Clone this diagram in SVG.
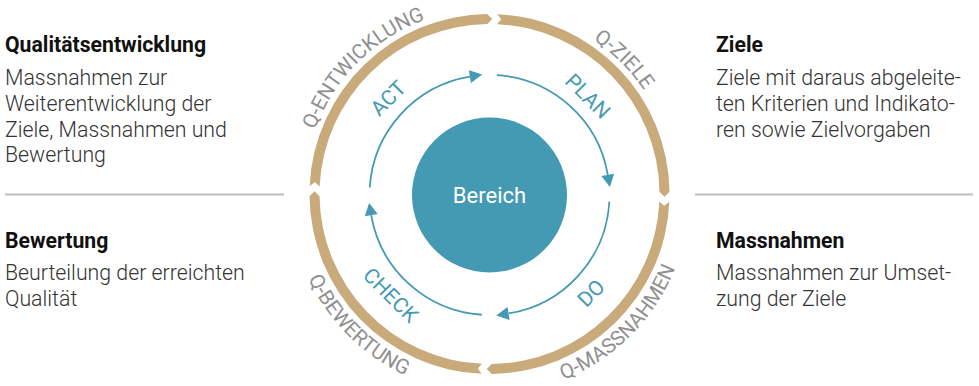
<svg xmlns="http://www.w3.org/2000/svg" xmlns:xlink="http://www.w3.org/1999/xlink" width="979" height="386" viewBox="0 0 979 386">
<style>
text{font-family:Roboto,"Liberation Sans",sans-serif}
.title{font-size:21.2px;font-weight:700;fill:#111}
.body{font-size:21.3px;font-weight:300;fill:#333}
.ring{fill:#c8aa7b}
.ringlbl{font-size:20.5px;fill:#909090;font-weight:400}
.pdca{fill:none;stroke:#4499b3;stroke-width:1.8}
.pdcalbl{font-size:21px;fill:#4499b3;font-weight:400;text-anchor:middle}
.rule{stroke:#bdbdbd;stroke-width:2}
</style>
<defs>
<marker id="ah" markerUnits="userSpaceOnUse" markerWidth="14" markerHeight="14" refX="0" refY="0" viewBox="0 -7 13 14" orient="auto">
<path d="M0,-6.5 L12.5,0 L0,6.5 z" fill="#4499b3"/>
</marker>
<path id="tpEnt" d="M309.84,242.14 A186,186 0 0 1 537.64,14.34"/>
<path id="tpZiel" d="M441.36,14.34 A186,186 0 0 1 669.16,242.14"/>
<path id="tpMass" d="M437.74,387.19 A200,200 0 0 0 682.69,142.24"/>
<path id="tpBew" d="M296.31,142.24 A200,200 0 0 0 541.26,387.19"/>
</defs>

<g id="left-top">
<text class="title" x="5" y="52">Qualitätsentwicklung</text>
<text class="body" x="5" y="85">Massnahmen zur</text>
<text class="body" x="5" y="111">Weiterentwicklung der</text>
<text class="body" x="5" y="137">Ziele, Massnahmen und</text>
<text class="body" x="5" y="162">Bewertung</text>
</g>
<g id="left-bottom">
<text class="title" x="5" y="248">Bewertung</text>
<text class="body" x="5" y="280">Beurteilung der erreichten</text>
<text class="body" x="5" y="306">Qualität</text>
</g>
<g id="right-top">
<text class="title" x="716" y="52">Ziele</text>
<text class="body" x="716" y="85">Ziele mit daraus abgeleite-</text>
<text class="body" x="716" y="111">ten Kriterien und Indikato-</text>
<text class="body" x="716" y="137">ren sowie Zielvorgaben</text>
</g>
<g id="right-bottom">
<text class="title" x="716" y="248">Massnahmen</text>
<text class="body" x="716" y="280">Massnahmen zur Umset-</text>
<text class="body" x="716" y="306">zung der Ziele</text>
</g>
<g id="rules">
<line class="rule" x1="5" y1="194.5" x2="284" y2="194.5"/>
<line class="rule" x1="695" y1="194.5" x2="973" y2="194.5"/>
</g>

<g id="ring-ziele">
<path class="ring" d="M497.45,14.17 A180,180 0 0 1 669.48,191.64 L664.48,196.72 L659.48,191.77 A170,170 0 0 0 497,24.16 L501.22,19.39 Z"/>
<text class="ringlbl"><textPath xlink:href="#tpZiel" href="#tpZiel" startOffset="50%" text-anchor="middle">Q-ZIELE</textPath></text>
</g>
<g id="ring-massnahmen">
<path class="ring" d="M669.33,201.95 A180,180 0 0 1 491.86,373.98 L486.78,368.98 L491.73,363.98 A170,170 0 0 0 659.34,201.5 L664.11,205.72 Z"/>
<text class="ringlbl"><textPath xlink:href="#tpMass" href="#tpMass" startOffset="50%" text-anchor="middle">Q-MASSNAHMEN</textPath></text>
</g>
<g id="ring-bewertung">
<path class="ring" d="M481.55,373.83 A180,180 0 0 1 309.52,196.36 L314.52,191.28 L319.52,196.23 A170,170 0 0 0 482,363.84 L477.78,368.61 Z"/>
<text class="ringlbl"><textPath xlink:href="#tpBew" href="#tpBew" startOffset="50%" text-anchor="middle">Q-BEWERTUNG</textPath></text>
</g>
<g id="ring-entwicklung">
<path class="ring" d="M309.67,186.05 A180,180 0 0 1 487.14,14.02 L492.22,19.02 L487.27,24.02 A170,170 0 0 0 319.66,186.5 L314.89,182.28 Z"/>
<text class="ringlbl"><textPath xlink:href="#tpEnt" href="#tpEnt" startOffset="50%" text-anchor="middle">Q-ENTWICKLUNG</textPath></text>
</g>

<g id="connectors">
<path class="pdca" marker-end="url(#ah)" d="M369.74,187.47 A120,120 0 0 1 469.9,76.61"/>
<path class="pdca" marker-end="url(#ah)" d="M496.83,75.22 A120,120 0 0 1 607.78,174.78"/>
<path class="pdca" marker-end="url(#ah)" d="M609.31,201.7 A120,120 0 0 1 508.56,313.48"/>
<path class="pdca" marker-end="url(#ah)" d="M481.76,314.75 A120,120 0 0 1 371.22,215.22"/>
</g>
<g id="pdca-labels">
<text class="pdcalbl" transform="translate(388,98) rotate(-45)" x="0" y="7.5">ACT</text>
<text class="pdcalbl" transform="translate(588,96) rotate(45)" x="0" y="7.5">PLAN</text>
<text class="pdcalbl" transform="translate(591,293) rotate(-45)" x="0" y="7.5">DO</text>
<text class="pdcalbl" transform="translate(391,295) rotate(45)" x="0" y="7.5">CHECK</text>
</g>

<g id="bereich">
<circle cx="489.5" cy="195" r="77.5" fill="#4499b3"/>
<text x="489.5" y="203" text-anchor="middle" font-size="22" font-weight="400" fill="#fff">Bereich</text>
</g>
</svg>
